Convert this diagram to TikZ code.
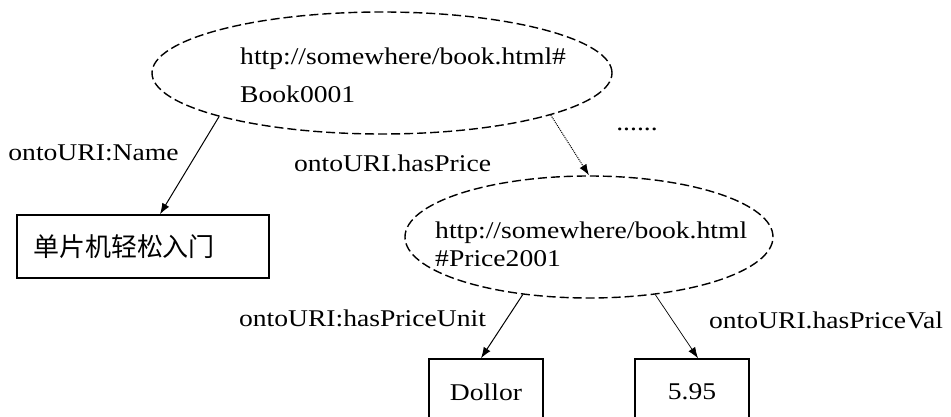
\documentclass[tikz,border=0pt]{standalone}
\usepackage{fontspec}
\setmainfont{Liberation Serif}
\newfontfamily\widefont{Liberation Serif}[FakeStretch=1.15]
\newfontfamily\cjk{Noto Sans CJK SC}
\usetikzlibrary{arrows.meta,shapes.geometric}

\begin{document}
\begin{tikzpicture}[x=1pt,y=-1pt,
  lbl/.style={font=\widefont\fontsize{24}{28}\selectfont, inner sep=0pt},
  bubble/.style={ellipse, draw, line width=1.4pt, dash pattern=on 9pt off 4pt, inner sep=0pt},
  valbox/.style={rectangle, draw, line width=1.5pt, inner sep=0pt},
  link/.style={-{Latex[length=11pt,width=8pt]}, line width=1pt},
]
\useasboundingbox (0,0) rectangle (951,417);
\clip (0,0) rectangle (951,417);

% resource nodes
\node[bubble, minimum width=460pt, minimum height=122pt] (e1) at (382,73) {};
\node[bubble, minimum width=368pt, minimum height=122pt] (e2) at (589,237) {};

\node[lbl, anchor=base west] (u1) at (240,65) {http://somewhere/book.html\#};
\node[lbl, anchor=base west] (u1b) at (240,103) {Book0001};
\node[lbl, anchor=base west] (u2) at (435,238) {http://somewhere/book.html};
\node[lbl, anchor=base west] (u2b) at (435,266) {\#Price2001};

% literal values
\node[valbox, minimum height=63pt, text width=220pt, inner xsep=16pt, align=left,
      font=\cjk\fontsize{26}{26}\selectfont] (b1) at (143,246.5) {单片机轻松入门};
\node[valbox, minimum width=114pt, minimum height=66pt, font=\widefont\fontsize{24}{28}\selectfont] (dl) at (486,392) {Dollor};
\node[valbox, minimum width=114pt, minimum height=66pt, font=\widefont\fontsize{24}{28}\selectfont] (dv) at (692,392) {5.95};

% property labels
\node[lbl] (ln) at (93.5,153) {ontoURI:Name};
\node[lbl] (lp) at (392.5,163) {ontoURI.hasPrice};
\node[lbl] (ld) at (637,129) {......};
\node[lbl] (lu) at (362.5,318) {ontoURI:hasPriceUnit};
\node[lbl] (lv) at (826,320) {ontoURI.hasPriceVal};

% properties
\draw[link] (e1.195.4) -- ([xshift=17pt]b1.north);
\draw[link, densely dotted] (e1.-14.9) -- (e2.north);
\draw[link] (e2.221.5) -- ([xshift=-5pt]dl.north);
\draw[link, line width=0.7pt] (e2.-41.5) -- ([xshift=6pt]dv.north);
\end{tikzpicture}
\end{document}
